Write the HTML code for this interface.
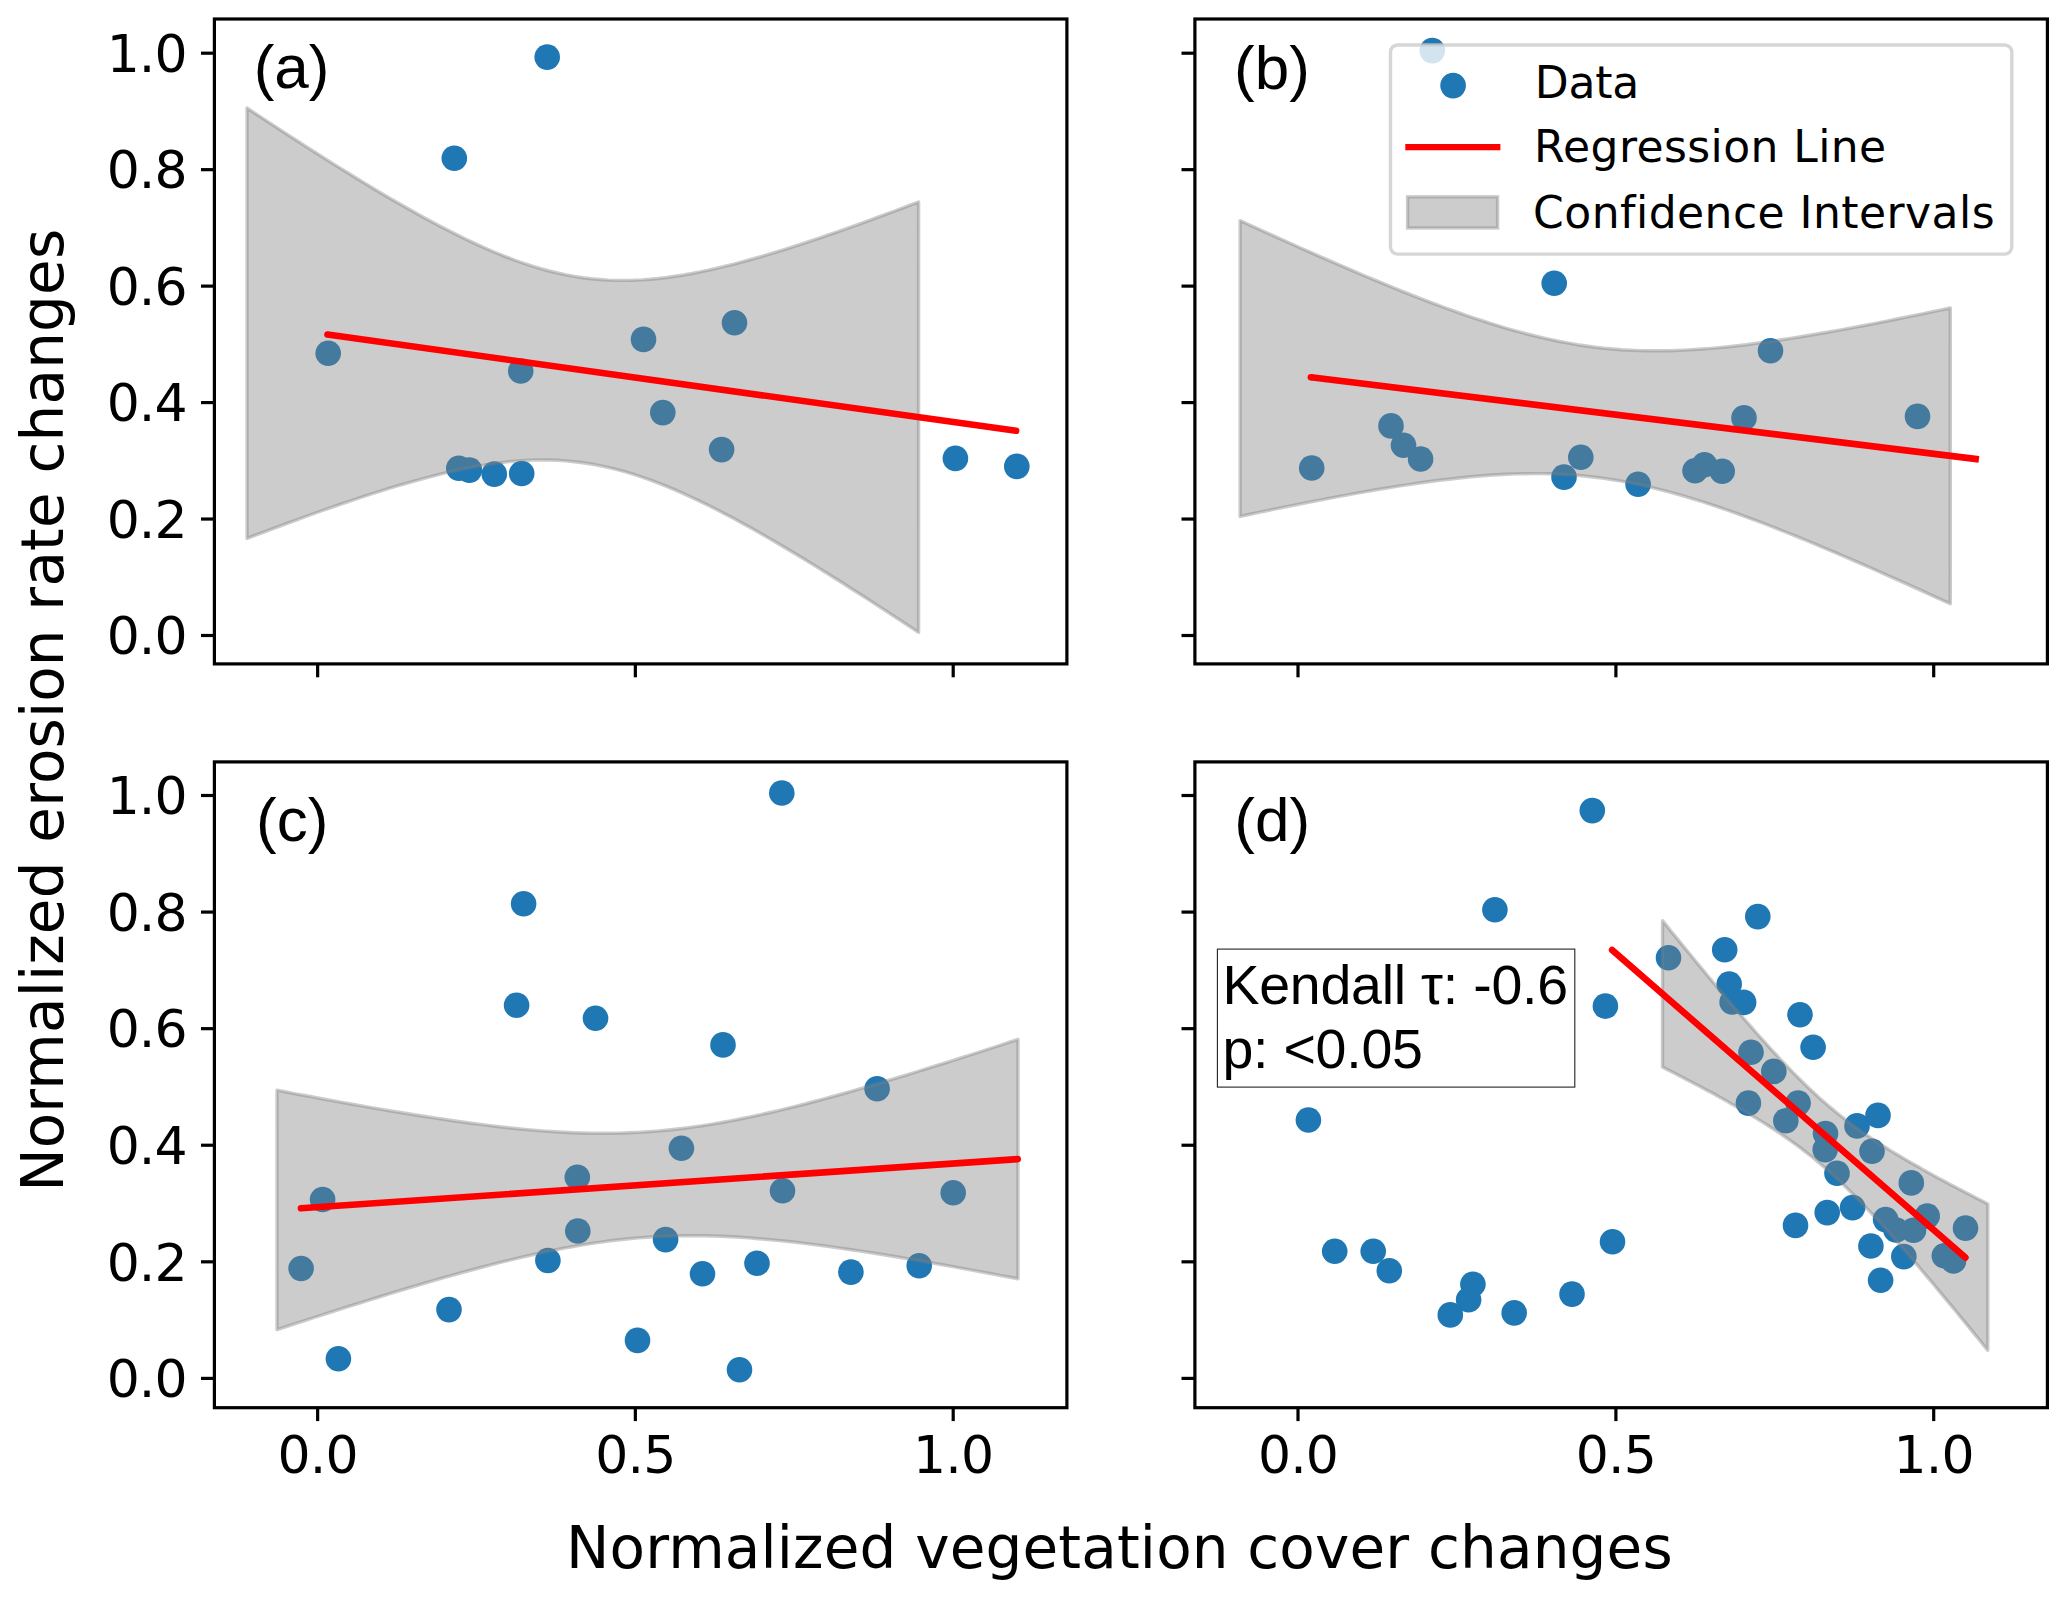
<!DOCTYPE html>
<html lang="en"><head><meta charset="utf-8">
<title>Normalized erosion rate changes vs normalized vegetation cover changes</title>
<style>
html,body{margin:0;padding:0;background:#fff;}
body{width:2067px;height:1598px;overflow:hidden;}
svg{display:block;}
.dj{font-family:"DejaVu Sans","Liberation Sans",sans-serif;fill:#000;}
.ar{font-family:"Liberation Sans",Arial,Helvetica,sans-serif;fill:#000;}
.tick{font-size:52px;letter-spacing:-0.85px;}
.axl{font-size:58px;letter-spacing:0.165px;}
.leg{font-size:44px;}
.pl{font-size:62px;}
.kb{font-size:55.5px;letter-spacing:-0.23px;}
</style></head><body>
<svg width="2067" height="1598" viewBox="0 0 2067 1598">
<rect x="0" y="0" width="2067" height="1598" fill="#ffffff"/>
<g id="panel-a">
<g fill="#1f77b4">
<circle cx="547.2" cy="57.1" r="12.8"/>
<circle cx="454.3" cy="158.2" r="12.8"/>
<circle cx="328.2" cy="353.3" r="12.8"/>
<circle cx="520.7" cy="371" r="12.8"/>
<circle cx="643.5" cy="339.4" r="12.8"/>
<circle cx="734.5" cy="322.7" r="12.8"/>
<circle cx="662.8" cy="412.6" r="12.8"/>
<circle cx="721.6" cy="449.6" r="12.8"/>
<circle cx="458.8" cy="468.2" r="12.8"/>
<circle cx="469.4" cy="470.1" r="12.8"/>
<circle cx="494.3" cy="474.1" r="12.8"/>
<circle cx="521.7" cy="473.5" r="12.8"/>
<circle cx="955.4" cy="458.4" r="12.8"/>
<circle cx="1016.8" cy="466.4" r="12.8"/>
</g>
<path d="M247.0 108.0 L255.4 113.6 L263.8 119.1 L272.2 124.6 L280.6 130.1 L289.0 135.6 L297.4 141.0 L305.8 146.4 L314.2 151.7 L322.6 157.1 L330.9 162.4 L339.3 167.6 L347.7 172.8 L356.1 178.0 L364.5 183.1 L372.9 188.2 L381.3 193.2 L389.7 198.2 L398.1 203.0 L406.5 207.8 L414.9 212.6 L423.3 217.2 L431.7 221.8 L440.1 226.2 L448.5 230.6 L456.9 234.8 L465.3 239.0 L473.7 242.9 L482.1 246.8 L490.5 250.5 L498.9 254.0 L507.2 257.3 L515.6 260.5 L524.0 263.4 L532.4 266.2 L540.8 268.7 L549.2 271.0 L557.6 273.0 L566.0 274.8 L574.4 276.4 L582.8 277.7 L591.2 278.8 L599.6 279.5 L608.0 280.1 L616.4 280.4 L624.8 280.4 L633.2 280.3 L641.6 279.9 L650.0 279.3 L658.4 278.5 L666.8 277.5 L675.1 276.3 L683.5 275.0 L691.9 273.5 L700.3 271.8 L708.7 270.1 L717.1 268.2 L725.5 266.2 L733.9 264.1 L742.3 261.8 L750.7 259.5 L759.1 257.2 L767.5 254.7 L775.9 252.2 L784.3 249.6 L792.7 246.9 L801.1 244.2 L809.5 241.4 L817.9 238.6 L826.3 235.7 L834.6 232.8 L843.0 229.9 L851.4 226.9 L859.8 223.9 L868.2 220.8 L876.6 217.7 L885.0 214.6 L893.4 211.5 L901.8 208.3 L910.2 205.2 L918.6 202.0 L918.6 632.4 L910.2 626.8 L901.8 621.3 L893.4 615.8 L885.0 610.3 L876.6 604.8 L868.2 599.4 L859.8 594.0 L851.4 588.7 L843.0 583.3 L834.6 578.0 L826.3 572.8 L817.9 567.6 L809.5 562.4 L801.1 557.3 L792.7 552.2 L784.3 547.2 L775.9 542.3 L767.5 537.4 L759.1 532.6 L750.7 527.8 L742.3 523.2 L733.9 518.6 L725.5 514.2 L717.1 509.8 L708.7 505.6 L700.3 501.4 L691.9 497.5 L683.5 493.6 L675.1 489.9 L666.8 486.4 L658.4 483.1 L650.0 479.9 L641.6 477.0 L633.2 474.2 L624.8 471.7 L616.4 469.4 L608.0 467.4 L599.6 465.6 L591.2 464.0 L582.8 462.7 L574.4 461.7 L566.0 460.9 L557.6 460.3 L549.2 460.0 L540.8 460.0 L532.4 460.1 L524.0 460.5 L515.6 461.1 L507.2 461.9 L498.9 462.9 L490.5 464.1 L482.1 465.5 L473.7 466.9 L465.3 468.6 L456.9 470.3 L448.5 472.2 L440.1 474.2 L431.7 476.4 L423.3 478.6 L414.9 480.9 L406.5 483.3 L398.1 485.7 L389.7 488.2 L381.3 490.8 L372.9 493.5 L364.5 496.2 L356.1 499.0 L347.7 501.8 L339.3 504.7 L330.9 507.6 L322.6 510.5 L314.2 513.5 L305.8 516.5 L297.4 519.6 L289.0 522.7 L280.6 525.8 L272.2 528.9 L263.8 532.1 L255.4 535.2 L247.0 538.4 Z" fill="#808080" fill-opacity="0.4" stroke="#808080" stroke-opacity="0.4" stroke-width="3.4" stroke-linejoin="round"/>
<line x1="327.5" y1="334.5" x2="1016.1" y2="430.8" stroke="#ff0000" stroke-width="6.6" stroke-linecap="round"/>
</g>
<g id="panel-b">
<g fill="#1f77b4">
<circle cx="1432.3" cy="50.6" r="12.8"/>
<circle cx="1554.2" cy="283.2" r="12.8"/>
<circle cx="1311.7" cy="468" r="12.8"/>
<circle cx="1391" cy="425.9" r="12.8"/>
<circle cx="1403.5" cy="445.2" r="12.8"/>
<circle cx="1420.6" cy="459" r="12.8"/>
<circle cx="1580.8" cy="457.2" r="12.8"/>
<circle cx="1564" cy="477.1" r="12.8"/>
<circle cx="1638.1" cy="484.2" r="12.8"/>
<circle cx="1695" cy="470.7" r="12.8"/>
<circle cx="1704.5" cy="464.7" r="12.8"/>
<circle cx="1722.2" cy="471.2" r="12.8"/>
<circle cx="1744" cy="417.9" r="12.8"/>
<circle cx="1770.5" cy="350.8" r="12.8"/>
<circle cx="1917.5" cy="416.4" r="12.8"/>
</g>
<path d="M1240.1 220.6 L1249.0 224.7 L1257.9 228.7 L1266.7 232.7 L1275.6 236.8 L1284.5 240.8 L1293.4 244.7 L1302.2 248.7 L1311.1 252.6 L1320.0 256.6 L1328.9 260.4 L1337.8 264.3 L1346.6 268.1 L1355.5 271.9 L1364.4 275.7 L1373.3 279.4 L1382.1 283.1 L1391.0 286.8 L1399.9 290.4 L1408.8 293.9 L1417.6 297.4 L1426.5 300.8 L1435.4 304.2 L1444.3 307.5 L1453.2 310.7 L1462.0 313.9 L1470.9 317.0 L1479.8 319.9 L1488.7 322.8 L1497.5 325.6 L1506.4 328.3 L1515.3 330.8 L1524.2 333.2 L1533.1 335.5 L1541.9 337.6 L1550.8 339.6 L1559.7 341.5 L1568.6 343.1 L1577.4 344.7 L1586.3 346.0 L1595.2 347.2 L1604.1 348.2 L1613.0 349.0 L1621.8 349.7 L1630.7 350.2 L1639.6 350.6 L1648.5 350.8 L1657.3 350.8 L1666.2 350.7 L1675.1 350.5 L1684.0 350.1 L1692.9 349.6 L1701.7 349.0 L1710.6 348.4 L1719.5 347.6 L1728.4 346.7 L1737.2 345.7 L1746.1 344.7 L1755.0 343.5 L1763.9 342.3 L1772.8 341.1 L1781.6 339.8 L1790.5 338.4 L1799.4 337.0 L1808.3 335.5 L1817.1 334.0 L1826.0 332.5 L1834.9 330.9 L1843.8 329.3 L1852.6 327.7 L1861.5 326.0 L1870.4 324.3 L1879.3 322.6 L1888.2 320.8 L1897.0 319.0 L1905.9 317.2 L1914.8 315.4 L1923.7 313.6 L1932.5 311.7 L1941.4 309.9 L1950.3 308.0 L1950.3 603.8 L1941.4 599.7 L1932.5 595.7 L1923.7 591.6 L1914.8 587.6 L1905.9 583.6 L1897.0 579.6 L1888.2 575.7 L1879.3 571.7 L1870.4 567.8 L1861.5 563.9 L1852.6 560.1 L1843.8 556.2 L1834.9 552.4 L1826.0 548.7 L1817.1 544.9 L1808.3 541.3 L1799.4 537.6 L1790.5 534.0 L1781.6 530.5 L1772.8 527.0 L1763.9 523.5 L1755.0 520.2 L1746.1 516.9 L1737.2 513.6 L1728.4 510.5 L1719.5 507.4 L1710.6 504.4 L1701.7 501.5 L1692.9 498.8 L1684.0 496.1 L1675.1 493.6 L1666.2 491.1 L1657.3 488.9 L1648.5 486.7 L1639.6 484.7 L1630.7 482.9 L1621.8 481.2 L1613.0 479.7 L1604.1 478.4 L1595.2 477.2 L1586.3 476.2 L1577.4 475.3 L1568.6 474.7 L1559.7 474.2 L1550.8 473.8 L1541.9 473.6 L1533.1 473.6 L1524.2 473.7 L1515.3 473.9 L1506.4 474.3 L1497.5 474.7 L1488.7 475.3 L1479.8 476.0 L1470.9 476.8 L1462.0 477.7 L1453.2 478.7 L1444.3 479.7 L1435.4 480.8 L1426.5 482.0 L1417.6 483.3 L1408.8 484.6 L1399.9 485.9 L1391.0 487.4 L1382.1 488.8 L1373.3 490.3 L1364.4 491.9 L1355.5 493.4 L1346.6 495.1 L1337.8 496.7 L1328.9 498.4 L1320.0 500.1 L1311.1 501.8 L1302.2 503.6 L1293.4 505.3 L1284.5 507.1 L1275.6 508.9 L1266.7 510.8 L1257.9 512.6 L1249.0 514.5 L1240.1 516.4 Z" fill="#808080" fill-opacity="0.4" stroke="#808080" stroke-opacity="0.4" stroke-width="3.4" stroke-linejoin="round"/>
<line x1="1310.9" y1="377.2" x2="1978.9" y2="459.4" stroke="#ff0000" stroke-width="6.6" stroke-linecap="butt"/>
<circle cx="1310.9" cy="377.2" r="3.30" fill="#ff0000"/>
</g>
<g id="panel-c">
<g fill="#1f77b4">
<circle cx="523.6" cy="903.7" r="12.8"/>
<circle cx="516.6" cy="1005.3" r="12.8"/>
<circle cx="595.5" cy="1018.3" r="12.8"/>
<circle cx="723" cy="1044.9" r="12.8"/>
<circle cx="781.8" cy="793" r="12.8"/>
<circle cx="877.1" cy="1088.7" r="12.8"/>
<circle cx="681.4" cy="1148.2" r="12.8"/>
<circle cx="322.6" cy="1199.5" r="12.8"/>
<circle cx="301.1" cy="1268.5" r="12.8"/>
<circle cx="338.4" cy="1358.7" r="12.8"/>
<circle cx="449" cy="1309.6" r="12.8"/>
<circle cx="547.9" cy="1260.5" r="12.8"/>
<circle cx="577.3" cy="1177.2" r="12.8"/>
<circle cx="577.8" cy="1231" r="12.8"/>
<circle cx="665.6" cy="1239.6" r="12.8"/>
<circle cx="702.5" cy="1273.8" r="12.8"/>
<circle cx="637.5" cy="1340.4" r="12.8"/>
<circle cx="782.5" cy="1190.7" r="12.8"/>
<circle cx="953.2" cy="1192.7" r="12.8"/>
<circle cx="757" cy="1263.3" r="12.8"/>
<circle cx="850.9" cy="1272.1" r="12.8"/>
<circle cx="919.2" cy="1265.8" r="12.8"/>
<circle cx="739.5" cy="1369.7" r="12.8"/>
</g>
<path d="M277.0 1090.2 L286.3 1092.0 L295.5 1093.8 L304.8 1095.5 L314.1 1097.2 L323.3 1099.0 L332.6 1100.7 L341.8 1102.3 L351.1 1104.0 L360.4 1105.7 L369.6 1107.3 L378.9 1108.9 L388.1 1110.5 L397.4 1112.0 L406.7 1113.5 L415.9 1115.0 L425.2 1116.5 L434.5 1117.9 L443.7 1119.3 L453.0 1120.7 L462.2 1122.0 L471.5 1123.2 L480.8 1124.4 L490.0 1125.6 L499.3 1126.7 L508.6 1127.7 L517.8 1128.7 L527.1 1129.6 L536.4 1130.4 L545.6 1131.1 L554.9 1131.7 L564.1 1132.2 L573.4 1132.7 L582.7 1133.0 L591.9 1133.2 L601.2 1133.3 L610.5 1133.3 L619.7 1133.1 L629.0 1132.8 L638.2 1132.4 L647.5 1131.8 L656.8 1131.1 L666.0 1130.3 L675.3 1129.3 L684.5 1128.2 L693.8 1126.9 L703.1 1125.6 L712.3 1124.1 L721.6 1122.5 L730.9 1120.8 L740.1 1119.0 L749.4 1117.1 L758.6 1115.1 L767.9 1113.0 L777.2 1110.9 L786.4 1108.6 L795.7 1106.3 L805.0 1104.0 L814.2 1101.5 L823.5 1099.1 L832.8 1096.5 L842.0 1094.0 L851.3 1091.3 L860.5 1088.7 L869.8 1086.0 L879.1 1083.2 L888.3 1080.5 L897.6 1077.7 L906.9 1074.9 L916.1 1072.0 L925.4 1069.1 L934.6 1066.2 L943.9 1063.3 L953.2 1060.4 L962.4 1057.4 L971.7 1054.5 L981.0 1051.5 L990.2 1048.5 L999.5 1045.5 L1008.7 1042.4 L1018.0 1039.4 L1018.0 1278.8 L1008.7 1277.0 L999.5 1275.3 L990.2 1273.5 L981.0 1271.8 L971.7 1270.1 L962.4 1268.4 L953.2 1266.7 L943.9 1265.0 L934.6 1263.4 L925.4 1261.7 L916.1 1260.1 L906.9 1258.6 L897.6 1257.0 L888.3 1255.5 L879.1 1254.0 L869.8 1252.5 L860.5 1251.1 L851.3 1249.7 L842.0 1248.4 L832.8 1247.1 L823.5 1245.8 L814.2 1244.6 L805.0 1243.4 L795.7 1242.3 L786.4 1241.3 L777.2 1240.4 L767.9 1239.5 L758.6 1238.7 L749.4 1237.9 L740.1 1237.3 L730.9 1236.8 L721.6 1236.3 L712.3 1236.0 L703.1 1235.8 L693.8 1235.7 L684.5 1235.8 L675.3 1235.9 L666.0 1236.2 L656.8 1236.6 L647.5 1237.2 L638.2 1237.9 L629.0 1238.8 L619.7 1239.7 L610.5 1240.8 L601.2 1242.1 L591.9 1243.4 L582.7 1244.9 L573.4 1246.5 L564.1 1248.2 L554.9 1250.0 L545.6 1251.9 L536.4 1253.9 L527.1 1256.0 L517.8 1258.2 L508.6 1260.4 L499.3 1262.7 L490.0 1265.1 L480.8 1267.5 L471.5 1270.0 L462.2 1272.5 L453.0 1275.1 L443.7 1277.7 L434.5 1280.3 L425.2 1283.0 L415.9 1285.8 L406.7 1288.5 L397.4 1291.3 L388.1 1294.2 L378.9 1297.0 L369.6 1299.9 L360.4 1302.8 L351.1 1305.7 L341.8 1308.6 L332.6 1311.6 L323.3 1314.6 L314.1 1317.5 L304.8 1320.6 L295.5 1323.6 L286.3 1326.6 L277.0 1329.6 Z" fill="#808080" fill-opacity="0.4" stroke="#808080" stroke-opacity="0.4" stroke-width="3.4" stroke-linejoin="round"/>
<line x1="300.9" y1="1208.3" x2="1017.7" y2="1159.1" stroke="#ff0000" stroke-width="6.6" stroke-linecap="round"/>
</g>
<g id="panel-d">
<g fill="#1f77b4">
<circle cx="1592.3" cy="810.6" r="12.8"/>
<circle cx="1494.9" cy="909.7" r="12.8"/>
<circle cx="1605.4" cy="1006.1" r="12.8"/>
<circle cx="1668.5" cy="957.8" r="12.8"/>
<circle cx="1308.4" cy="1120" r="12.8"/>
<circle cx="1757.8" cy="916.6" r="12.8"/>
<circle cx="1724.7" cy="949.8" r="12.8"/>
<circle cx="1729.2" cy="984" r="12.8"/>
<circle cx="1732.1" cy="1002" r="12.8"/>
<circle cx="1743.6" cy="1002.4" r="12.8"/>
<circle cx="1800" cy="1014.7" r="12.8"/>
<circle cx="1813.1" cy="1047.2" r="12.8"/>
<circle cx="1751" cy="1052.2" r="12.8"/>
<circle cx="1773.8" cy="1071.4" r="12.8"/>
<circle cx="1748.4" cy="1103.1" r="12.8"/>
<circle cx="1798.1" cy="1103.1" r="12.8"/>
<circle cx="1785.8" cy="1120.7" r="12.8"/>
<circle cx="1857" cy="1125.9" r="12.8"/>
<circle cx="1878" cy="1115.4" r="12.8"/>
<circle cx="1825.5" cy="1133.6" r="12.8"/>
<circle cx="1825.2" cy="1149.6" r="12.8"/>
<circle cx="1872" cy="1151.2" r="12.8"/>
<circle cx="1837" cy="1173.3" r="12.8"/>
<circle cx="1911.3" cy="1182.9" r="12.8"/>
<circle cx="1852.6" cy="1207.6" r="12.8"/>
<circle cx="1827.2" cy="1212.6" r="12.8"/>
<circle cx="1795.5" cy="1225.4" r="12.8"/>
<circle cx="1885.6" cy="1219.6" r="12.8"/>
<circle cx="1896" cy="1230" r="12.8"/>
<circle cx="1913.5" cy="1230.3" r="12.8"/>
<circle cx="1927.2" cy="1216.1" r="12.8"/>
<circle cx="1965.5" cy="1228.1" r="12.8"/>
<circle cx="1870.9" cy="1246" r="12.8"/>
<circle cx="1903.8" cy="1256.6" r="12.8"/>
<circle cx="1944.3" cy="1255.8" r="12.8"/>
<circle cx="1953.5" cy="1260.9" r="12.8"/>
<circle cx="1880.6" cy="1280.3" r="12.8"/>
<circle cx="1334.7" cy="1251.3" r="12.8"/>
<circle cx="1373.2" cy="1251.3" r="12.8"/>
<circle cx="1389.3" cy="1270.8" r="12.8"/>
<circle cx="1472.9" cy="1284.3" r="12.8"/>
<circle cx="1468.6" cy="1299.8" r="12.8"/>
<circle cx="1450.3" cy="1314.9" r="12.8"/>
<circle cx="1514.2" cy="1312.9" r="12.8"/>
<circle cx="1572" cy="1294.1" r="12.8"/>
<circle cx="1612.5" cy="1241.8" r="12.8"/>
</g>
<path d="M1662.5 920.7 L1666.6 925.7 L1670.6 930.7 L1674.7 935.7 L1678.8 940.7 L1682.8 945.6 L1686.9 950.6 L1691.0 955.5 L1695.0 960.5 L1699.1 965.4 L1703.2 970.3 L1707.2 975.2 L1711.3 980.1 L1715.4 985.0 L1719.4 989.8 L1723.5 994.7 L1727.6 999.5 L1731.6 1004.3 L1735.7 1009.1 L1739.8 1013.8 L1743.8 1018.5 L1747.9 1023.2 L1752.0 1027.9 L1756.0 1032.5 L1760.1 1037.1 L1764.2 1041.6 L1768.2 1046.1 L1772.3 1050.6 L1776.4 1055.0 L1780.4 1059.4 L1784.5 1063.7 L1788.6 1067.9 L1792.6 1072.1 L1796.7 1076.2 L1800.8 1080.3 L1804.8 1084.3 L1808.9 1088.2 L1813.0 1092.0 L1817.0 1095.7 L1821.1 1099.4 L1825.2 1103.0 L1829.2 1106.5 L1833.3 1109.9 L1837.3 1113.2 L1841.4 1116.5 L1845.5 1119.7 L1849.5 1122.8 L1853.6 1125.8 L1857.7 1128.8 L1861.7 1131.7 L1865.8 1134.5 L1869.9 1137.3 L1873.9 1140.0 L1878.0 1142.6 L1882.1 1145.3 L1886.1 1147.8 L1890.2 1150.4 L1894.3 1152.9 L1898.3 1155.3 L1902.4 1157.7 L1906.5 1160.1 L1910.5 1162.5 L1914.6 1164.8 L1918.7 1167.1 L1922.7 1169.4 L1926.8 1171.7 L1930.9 1173.9 L1934.9 1176.2 L1939.0 1178.4 L1943.1 1180.6 L1947.1 1182.7 L1951.2 1184.9 L1955.3 1187.1 L1959.3 1189.2 L1963.4 1191.3 L1967.5 1193.4 L1971.5 1195.6 L1975.6 1197.7 L1979.7 1199.7 L1983.7 1201.8 L1987.8 1203.9 L1987.8 1350.3 L1983.7 1345.3 L1979.7 1340.3 L1975.6 1335.3 L1971.5 1330.3 L1967.5 1325.4 L1963.4 1320.4 L1959.3 1315.4 L1955.3 1310.5 L1951.2 1305.6 L1947.1 1300.7 L1943.1 1295.8 L1939.0 1290.9 L1934.9 1286.0 L1930.9 1281.1 L1926.8 1276.3 L1922.7 1271.5 L1918.7 1266.7 L1914.6 1261.9 L1910.5 1257.2 L1906.5 1252.5 L1902.4 1247.8 L1898.3 1243.1 L1894.3 1238.5 L1890.2 1233.9 L1886.1 1229.4 L1882.1 1224.8 L1878.0 1220.4 L1873.9 1216.0 L1869.9 1211.6 L1865.8 1207.3 L1861.7 1203.0 L1857.7 1198.9 L1853.6 1194.7 L1849.5 1190.7 L1845.5 1186.7 L1841.4 1182.8 L1837.3 1179.0 L1833.3 1175.2 L1829.2 1171.6 L1825.2 1168.0 L1821.1 1164.5 L1817.0 1161.1 L1813.0 1157.7 L1808.9 1154.5 L1804.8 1151.3 L1800.8 1148.2 L1796.7 1145.2 L1792.6 1142.2 L1788.6 1139.3 L1784.5 1136.5 L1780.4 1133.7 L1776.4 1131.0 L1772.3 1128.3 L1768.2 1125.7 L1764.2 1123.1 L1760.1 1120.6 L1756.0 1118.1 L1752.0 1115.7 L1747.9 1113.2 L1743.8 1110.9 L1739.8 1108.5 L1735.7 1106.2 L1731.6 1103.9 L1727.6 1101.6 L1723.5 1099.3 L1719.4 1097.1 L1715.4 1094.8 L1711.3 1092.6 L1707.2 1090.4 L1703.2 1088.2 L1699.1 1086.1 L1695.0 1083.9 L1691.0 1081.8 L1686.9 1079.7 L1682.8 1077.5 L1678.8 1075.4 L1674.7 1073.3 L1670.6 1071.2 L1666.6 1069.2 L1662.5 1067.1 Z" fill="#808080" fill-opacity="0.4" stroke="#808080" stroke-opacity="0.4" stroke-width="3.4" stroke-linejoin="round"/>
<line x1="1612.1" y1="950.0" x2="1965.4" y2="1257.6" stroke="#ff0000" stroke-width="6.6" stroke-linecap="round"/>
</g>
<g id="legend">
<rect x="1390.5" y="45.0" width="621.3" height="209.1" rx="7" ry="7" fill="#ffffff" fill-opacity="0.8" stroke="#cccccc" stroke-opacity="0.8" stroke-width="3.4"/>
<circle cx="1453.1" cy="85.6" r="12.8" fill="#1f77b4"/>
<line x1="1405.3" y1="147.2" x2="1500.4" y2="147.2" stroke="#ff0000" stroke-width="6.3"/>
<rect x="1407.6" y="196.8" width="90.0" height="31.2" fill="#808080" fill-opacity="0.4" stroke="#808080" stroke-opacity="0.4" stroke-width="3.4"/>
<text class="dj leg" x="1534.7" y="98.1" style="letter-spacing:-0.15px">Data</text>
<text class="dj leg" x="1534.1" y="161.9" style="letter-spacing:0.41px">Regression Line</text>
<text class="dj leg" x="1533.1" y="228.4" style="letter-spacing:0.46px">Confidence Intervals</text>
</g>
<g id="axes-a" stroke="#000" fill="none">
<line x1="201.00" y1="53.20" x2="214.40" y2="53.20" stroke-width="3.2"/>
<line x1="201.00" y1="169.66" x2="214.40" y2="169.66" stroke-width="3.2"/>
<line x1="201.00" y1="286.12" x2="214.40" y2="286.12" stroke-width="3.2"/>
<line x1="201.00" y1="402.58" x2="214.40" y2="402.58" stroke-width="3.2"/>
<line x1="201.00" y1="519.04" x2="214.40" y2="519.04" stroke-width="3.2"/>
<line x1="201.00" y1="635.50" x2="214.40" y2="635.50" stroke-width="3.2"/>
<line x1="317.65" y1="663.90" x2="317.65" y2="677.30" stroke-width="3.2"/>
<line x1="635.35" y1="663.90" x2="635.35" y2="677.30" stroke-width="3.2"/>
<line x1="953.20" y1="663.90" x2="953.20" y2="677.30" stroke-width="3.2"/>
<rect x="214.40" y="19.00" width="852.50" height="644.90" stroke-width="3.2"/>
</g>
<g id="axes-b" stroke="#000" fill="none">
<line x1="1181.50" y1="53.20" x2="1194.90" y2="53.20" stroke-width="3.2"/>
<line x1="1181.50" y1="169.66" x2="1194.90" y2="169.66" stroke-width="3.2"/>
<line x1="1181.50" y1="286.12" x2="1194.90" y2="286.12" stroke-width="3.2"/>
<line x1="1181.50" y1="402.58" x2="1194.90" y2="402.58" stroke-width="3.2"/>
<line x1="1181.50" y1="519.04" x2="1194.90" y2="519.04" stroke-width="3.2"/>
<line x1="1181.50" y1="635.50" x2="1194.90" y2="635.50" stroke-width="3.2"/>
<line x1="1298.00" y1="663.90" x2="1298.00" y2="677.30" stroke-width="3.2"/>
<line x1="1615.90" y1="663.90" x2="1615.90" y2="677.30" stroke-width="3.2"/>
<line x1="1933.70" y1="663.90" x2="1933.70" y2="677.30" stroke-width="3.2"/>
<rect x="1194.90" y="19.00" width="852.50" height="644.90" stroke-width="3.2"/>
</g>
<g id="axes-c" stroke="#000" fill="none">
<line x1="201.00" y1="795.50" x2="214.40" y2="795.50" stroke-width="3.2"/>
<line x1="201.00" y1="912.08" x2="214.40" y2="912.08" stroke-width="3.2"/>
<line x1="201.00" y1="1028.66" x2="214.40" y2="1028.66" stroke-width="3.2"/>
<line x1="201.00" y1="1145.24" x2="214.40" y2="1145.24" stroke-width="3.2"/>
<line x1="201.00" y1="1261.82" x2="214.40" y2="1261.82" stroke-width="3.2"/>
<line x1="201.00" y1="1378.40" x2="214.40" y2="1378.40" stroke-width="3.2"/>
<line x1="317.65" y1="1407.70" x2="317.65" y2="1421.10" stroke-width="3.2"/>
<line x1="635.35" y1="1407.70" x2="635.35" y2="1421.10" stroke-width="3.2"/>
<line x1="953.20" y1="1407.70" x2="953.20" y2="1421.10" stroke-width="3.2"/>
<rect x="214.40" y="761.90" width="852.50" height="645.80" stroke-width="3.2"/>
</g>
<g id="axes-d" stroke="#000" fill="none">
<line x1="1181.50" y1="795.50" x2="1194.90" y2="795.50" stroke-width="3.2"/>
<line x1="1181.50" y1="912.08" x2="1194.90" y2="912.08" stroke-width="3.2"/>
<line x1="1181.50" y1="1028.66" x2="1194.90" y2="1028.66" stroke-width="3.2"/>
<line x1="1181.50" y1="1145.24" x2="1194.90" y2="1145.24" stroke-width="3.2"/>
<line x1="1181.50" y1="1261.82" x2="1194.90" y2="1261.82" stroke-width="3.2"/>
<line x1="1181.50" y1="1378.40" x2="1194.90" y2="1378.40" stroke-width="3.2"/>
<line x1="1298.00" y1="1407.70" x2="1298.00" y2="1421.10" stroke-width="3.2"/>
<line x1="1615.90" y1="1407.70" x2="1615.90" y2="1421.10" stroke-width="3.2"/>
<line x1="1933.70" y1="1407.70" x2="1933.70" y2="1421.10" stroke-width="3.2"/>
<rect x="1194.90" y="761.90" width="852.50" height="645.80" stroke-width="3.2"/>
</g>
<text class="dj tick" text-anchor="end" x="186.8" y="71.9">1.0</text>
<text class="dj tick" text-anchor="end" x="186.8" y="188.4">0.8</text>
<text class="dj tick" text-anchor="end" x="186.8" y="304.8">0.6</text>
<text class="dj tick" text-anchor="end" x="186.8" y="421.3">0.4</text>
<text class="dj tick" text-anchor="end" x="186.8" y="537.7">0.2</text>
<text class="dj tick" text-anchor="end" x="186.8" y="654.2">0.0</text>
<text class="dj tick" text-anchor="end" x="186.8" y="814.2">1.0</text>
<text class="dj tick" text-anchor="end" x="186.8" y="930.8">0.8</text>
<text class="dj tick" text-anchor="end" x="186.8" y="1047.4">0.6</text>
<text class="dj tick" text-anchor="end" x="186.8" y="1163.9">0.4</text>
<text class="dj tick" text-anchor="end" x="186.8" y="1280.5">0.2</text>
<text class="dj tick" text-anchor="end" x="186.8" y="1397.1">0.0</text>
<text class="dj tick" text-anchor="middle" x="317.6" y="1472.6">0.0</text>
<text class="dj tick" text-anchor="middle" x="635.4" y="1472.6">0.5</text>
<text class="dj tick" text-anchor="middle" x="953.2" y="1472.6">1.0</text>
<text class="dj tick" text-anchor="middle" x="1298.0" y="1472.6">0.0</text>
<text class="dj tick" text-anchor="middle" x="1615.9" y="1472.6">0.5</text>
<text class="dj tick" text-anchor="middle" x="1933.7" y="1472.6">1.0</text>
<text class="dj axl" text-anchor="middle" x="1119.4" y="1568.2">Normalized vegetation cover changes</text>
<text class="dj axl" text-anchor="middle" transform="translate(62.7 710.3) rotate(-90)">Normalized erosion rate changes</text>
<text class="ar pl" x="253.7" y="87.55">(a)</text>
<text class="ar pl" x="1234.0" y="89.15">(b)</text>
<text class="ar pl" x="256.0" y="840.6">(c)</text>
<text class="ar pl" x="1234.3" y="841.0">(d)</text>
<g id="kendall">
<rect x="1217.4" y="949.1" width="357.4" height="138.0" fill="#ffffff" stroke="#222" stroke-width="1.1"/>
<text class="ar kb" x="1222.4" y="1004.0">Kendall τ: -0.6</text>
<text class="ar kb" x="1222.4" y="1067.7">p: &lt;0.05</text>
</g>
</svg>
</body></html>
